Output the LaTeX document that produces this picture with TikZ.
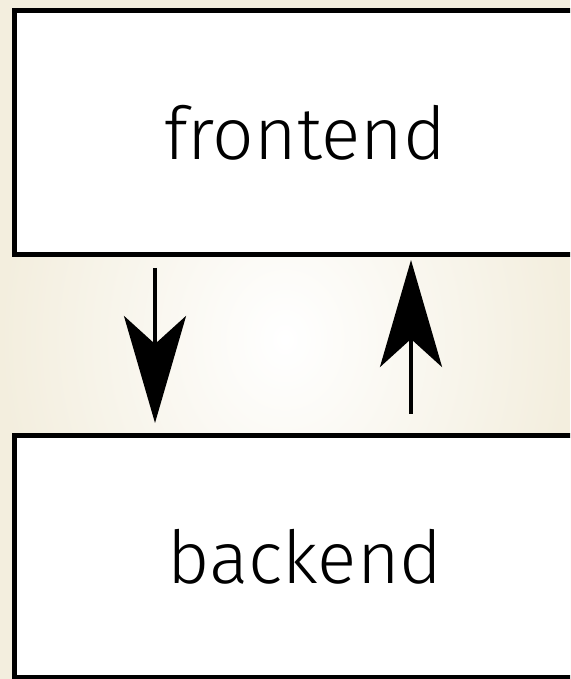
\documentclass[tikz,border=0pt]{standalone}
\usepackage{fontspec}
\setmainfont{Fira Sans Light}
\usetikzlibrary{arrows.meta}
\definecolor{cream}{RGB}{243,238,222}
\tikzset{
  layer/.style={draw, line width=5pt, fill=white, minimum width=582pt,
    minimum height=244pt, inner sep=0pt, font=\fontsize{73}{88}\selectfont},
  flow/.style={line width=4pt, -{Stealth[length=107pt, width=62pt, inset=28pt]}}
}
\begin{document}
\begin{tikzpicture}[x=1pt, y=1pt]
  \useasboundingbox (0, 0) rectangle (570, 679);
  \clip (0, 0) rectangle (570, 679);
  \shade[inner color=white, outer color=cream] (0, 0) rectangle (570, 679);

  \node[layer] (front) at (305, 546) {frontend};
  \node[layer, minimum height=242pt] (back) at (305, 122) {backend};

  \coordinate (down) at (155, 0);
  \coordinate (up) at (411, 0);
  \draw[flow, shorten <=10.5pt, shorten >=10.5pt] (front.south -| down) -- (back.north -| down);
  \draw[flow, shorten <=19.5pt, shorten >=2.5pt] (back.north -| up) -- (front.south -| up);
\end{tikzpicture}
\end{document}
